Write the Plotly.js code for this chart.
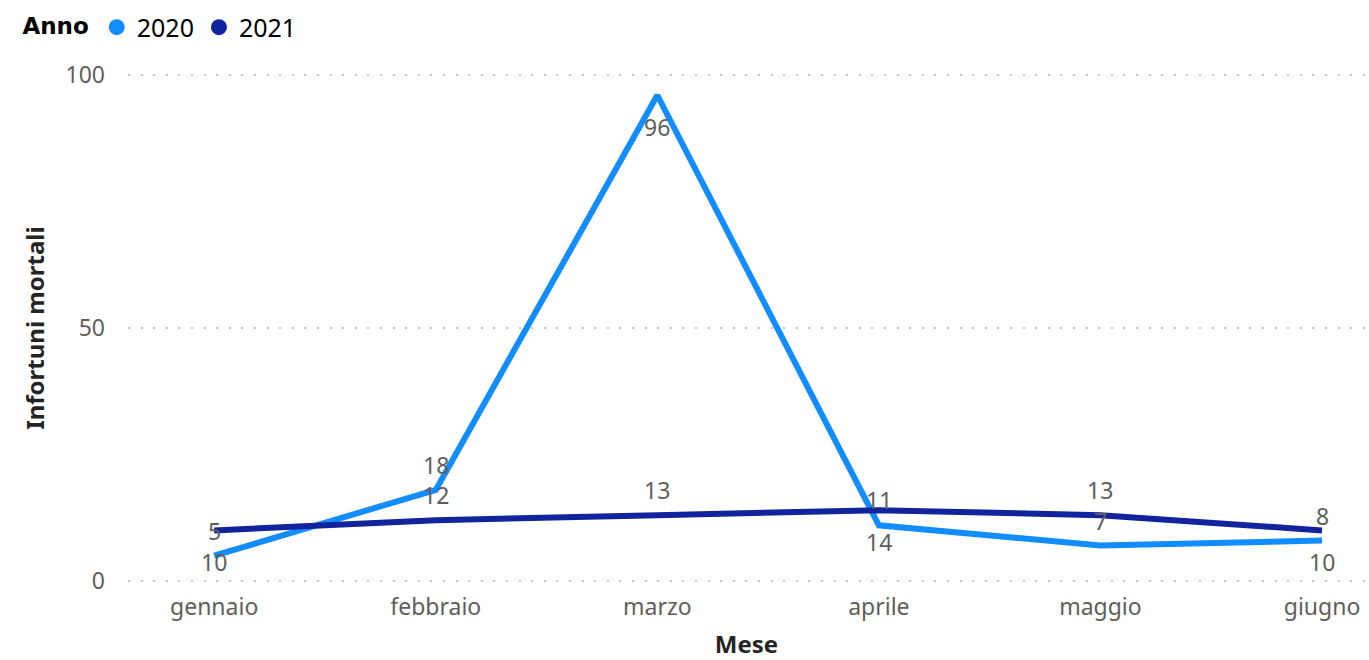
<!DOCTYPE html>
<html>
<head>
<meta charset="utf-8">
<script src="https://cdn.plot.ly/plotly-3.0.1.min.js"></script>
<style>
html,body{margin:0;padding:0;background:#fff;}
#chart{width:1369px;height:660px;}
</style>
</head>
<body>
<div id="chart"></div>
<script>
const months = ['gennaio','febbraio','marzo','aprile','maggio','giugno'];
const values2020 = [5, 18, 96, 11, 7, 8];
const values2021 = [10, 12, 13, 14, 13, 10];
const labelSide2020 = ['above','above','below','above','above','above'];
const labelSide2021 = ['below','above','above','below','above','below'];
const yTicks = [0, 50, 100];

const color2020 = '#118DFF';
const color2021 = '#12239E';
const fontFam = 'Noto Sans, Open Sans, sans-serif';
const labelColor = '#605E5C';

const traces = [
  {
    x: months, y: values2020, name: '2020', type: 'scatter', mode: 'lines',
    line: {color: color2020, width: 6}, showlegend: false, cliponaxis: false
  },
  {
    x: months, y: values2021, name: '2021', type: 'scatter', mode: 'lines',
    line: {color: color2021, width: 6}, showlegend: false, cliponaxis: false
  },
  {x: [null], y: [null], name: '2020', type: 'scatter', mode: 'markers',
   marker: {size: 18, color: color2020}, showlegend: true},
  {x: [null], y: [null], name: '2021', type: 'scatter', mode: 'markers',
   marker: {size: 18, color: color2021}, showlegend: true}
];

function labelAnnotations(values, sides) {
  return values.map((v, i) => ({
    x: months[i], y: v, xref: 'x', yref: 'y',
    text: String(v), showarrow: false,
    xanchor: 'center', yanchor: 'middle',
    yshift: sides[i] === 'above' ? 25 : -32,
    font: {family: fontFam, size: 23, color: labelColor}
  }));
}

const layout = {
  width: 1369, height: 660,
  paper_bgcolor: '#ffffff', plot_bgcolor: '#ffffff',
  margin: {l: 128, r: 4, t: 72, b: 78},
  font: {family: fontFam, color: labelColor, size: 23},
  showlegend: true,
  legend: {
    orientation: 'h', x: -0.087, xanchor: 'left', y: 1.137, yanchor: 'top',
    title: {text: '<b>Anno</b>', font: {family: 'DejaVu Sans, sans-serif', size: 23, color: '#000'}},
    font: {family: fontFam, size: 25, color: '#000'},
    itemwidth: 30, tracegroupgap: 0, itemclick: false
  },
  annotations: labelAnnotations(values2020, labelSide2020).concat(labelAnnotations(values2021, labelSide2021)),
  xaxis: {
    type: 'category', categoryorder: 'array', categoryarray: months,
    range: [-0.389, 5.194],
    showgrid: false, zeroline: false, showline: false, ticks: '',
    tickfont: {family: fontFam, size: 23, color: labelColor},
    ticklabelstandoff: 9,
    title: {text: '<b>Mese</b>', font: {family: fontFam, size: 24, color: '#252423'}, standoff: 18},
    fixedrange: true
  },
  yaxis: {
    range: [-0.2, 100.2], tickvals: yTicks, ticktext: yTicks.map(String),
    showgrid: true, gridcolor: '#C8C8C8', griddash: '2px,10.6px', gridwidth: 2,
    zeroline: false, showline: false, ticks: '',
    tickfont: {family: fontFam, size: 23, color: labelColor},
    ticklabelstandoff: 22,
    title: {text: '<b>Infortuni mortali</b>', font: {family: fontFam, size: 24, color: '#252423'}, standoff: 14},
    fixedrange: true
  }
};

Plotly.newPlot('chart', traces, layout, {displayModeBar: false, staticPlot: true});
</script>
</body>
</html>
